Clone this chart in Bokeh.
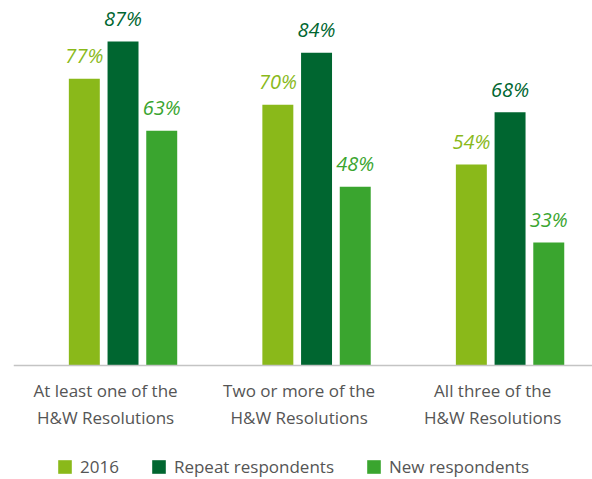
from bokeh.plotting import figure
from bokeh.models import ColumnDataSource, Legend, LegendItem, FixedTicker
from bokeh.core.properties import value
from bokeh.embed import file_html
from bokeh.resources import INLINE

# ---- data ----
categories = [
    "At least one of the\nH&W Resolutions",
    "Two or more of the\nH&W Resolutions",
    "All three of the\nH&W Resolutions",
]
series_names = ["2016", "Repeat respondents", "New respondents"]
values_2016 = [77, 70, 54]
values_repeat = [87, 84, 68]
values_new = [63, 48, 33]

series_values = [values_2016, values_repeat, values_new]
colors = ["#8AB91A", "#006630", "#3AA52F"]
offsets = [-0.2, 0.0, 0.2]
label_shift = -0.09

p = figure(
    width=592, height=479,
    x_range=(-0.566, 2.426), y_range=(-30.6, 98.0),
    output_backend="svg", toolbar_location=None,
    min_border_left=13, min_border_right=0, min_border_top=0, min_border_bottom=0,
)
p.outline_line_color = None
p.grid.visible = False
p.yaxis.visible = False
p.background_fill_color = "white"
p.border_fill_color = "white"

renderers = []
for name, vals, col, off in zip(series_names, series_values, colors, offsets):
    src = ColumnDataSource(dict(
        x=[i + off for i in range(len(categories))],
        top=vals,
        label=[f"{v}%" for v in vals],
    ))
    r = p.vbar(x="x", top="top", bottom=0, width=0.16, source=src, fill_color=col, line_color=None)
    renderers.append(r)
    p.text(x="x", y="top", text="label", source=src, y_offset=-23,
           text_align="center", text_baseline="middle",
           text_font=value("Open Sans"), text_font_style="italic",
           text_font_size="20px", text_color=col)

ticks = [round(i + label_shift, 2) for i in range(len(categories))]
xa = p.xaxis[0]
xa.fixed_location = 0
xa.ticker = FixedTicker(ticks=ticks)
xa.major_label_overrides = {t: c for t, c in zip(ticks, categories)}
xa.axis_line_color = "#C4C4C4"
xa.axis_line_width = 1.5
xa.major_tick_line_color = None
xa.minor_tick_line_color = None
xa.major_label_standoff = 7
xa.major_label_text_font = "Open Sans"
xa.major_label_text_font_size = "17px"
xa.major_label_text_color = "#555555"

legend = Legend(
    items=[LegendItem(label=n, renderers=[r]) for n, r in zip(series_names, renderers)],
    orientation="horizontal", location=(43, 1),
    glyph_width=17, glyph_height=17, label_standoff=7, spacing=31,
    padding=0, margin=0, border_line_color=None, background_fill_alpha=0,
    label_text_font="Open Sans", label_text_font_size="17px", label_text_color="#555555",
)
p.add_layout(legend, "center")

open("out.html", "w").write(file_html(p, INLINE))
